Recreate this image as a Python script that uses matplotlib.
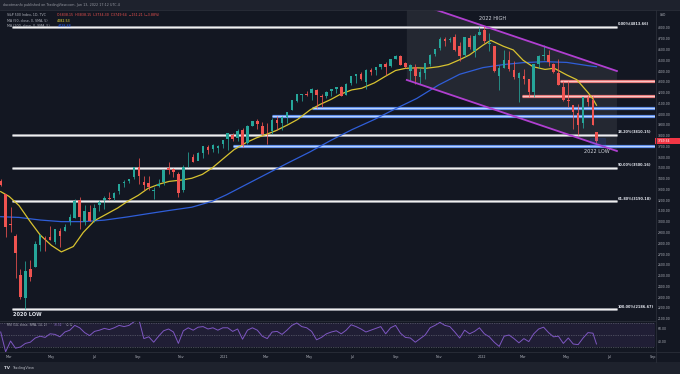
import matplotlib
matplotlib.use("Agg")
import matplotlib.pyplot as plt
import matplotlib.dates as mdates
import matplotlib.transforms as mtransforms
from matplotlib.patches import Rectangle, Polygon
from matplotlib.lines import Line2D
import numpy as np
import pandas as pd

W, H = 680, 374
BG = "#131722"
PANEL = "#1e222d"
SEP = "#2a2e39"
TXT = "#b2b5be"
UP = "#26a69a"
DOWN = "#ef5350"

# S&P 500 weekly candles (the last one is the single session of Jun 13 2022)
week_dates = list(pd.date_range("2020-02-19", periods=121, freq="7D")) + [pd.Timestamp("2022-06-13")]

opens = [
    3380.4, 3257.6, 2974.3, 2863.9, 2508.6, 2290.7, 2558.0, 2578.3, 2782.5, 2845.6,
    2854.7, 2815.0, 2915.5, 2913.9, 3004.1, 3038.8, 3199.9, 2993.8, 3094.4, 3018.6,
    3155.3, 3205.1, 3224.3, 3219.8, 3288.3, 3356.0, 3380.9, 3418.1, 3507.9, 3371.9,
    3363.6, 3285.6, 3333.9, 3367.3, 3500.0, 3493.7, 3441.4, 3296.2, 3583.0, 3600.2,
    3566.8, 3634.2, 3694.7, 3675.3, 3684.3, 3723.0, 3764.6, 3803.1, 3781.9, 3851.7,
    3731.2, 3892.6, 3939.6, 3885.6, 3842.5, 3844.4, 3942.9, 3916.5, 3969.3, 4034.4,
    4124.7, 4179.8, 4185.0, 4192.0, 4228.3, 4169.9, 4170.2, 4216.5, 4229.3, 4248.3,
    4173.4, 4284.9, 4356.5, 4372.4, 4296.4, 4409.6, 4406.9, 4437.8, 4461.7, 4450.3,
    4513.8, 4535.4, 4474.8, 4402.9, 4442.1, 4348.8, 4385.4, 4463.7, 4553.7, 4610.6,
    4701.5, 4689.3, 4712.0, 4628.8, 4548.4, 4710.3, 4587.9, 4733.9, 4778.1, 4655.3,
    4632.2, 4356.3, 4431.8, 4505.8, 4412.6, 4332.7, 4354.2, 4327.0, 4202.8, 4462.4,
    4541.1, 4547.0, 4462.6, 4385.6, 4255.3, 4130.6, 4081.3, 4013.0, 3919.4, 4151.1,
    4134.7, 3838.15]
highs = [
    3393.5, 3259.8, 3136.7, 2882.6, 2562.9, 2637.0, 2641.4, 2818.6, 2879.2, 2871.0,
    2965.0, 2932.0, 2945.0, 2980.3, 3068.7, 3211.7, 3233.1, 3155.5, 3153.5, 3165.8,
    3198.6, 3238.3, 3279.3, 3272.2, 3352.5, 3387.9, 3399.5, 3509.2, 3588.1, 3425.5,
    3428.9, 3320.3, 3397.2, 3482.3, 3550.5, 3502.4, 3464.9, 3529.0, 3646.0, 3628.5,
    3644.3, 3699.2, 3712.4, 3726.7, 3711.2, 3760.2, 3826.7, 3823.6, 3861.5, 3870.9,
    3894.6, 3937.2, 3950.4, 3928.6, 3915.0, 3960.3, 3983.9, 3981.0, 4020.6, 4129.5,
    4191.3, 4187.4, 4218.8, 4238.0, 4236.4, 4183.6, 4213.4, 4233.5, 4249.7, 4257.2,
    4286.1, 4355.4, 4372.0, 4393.7, 4415.0, 4430.0, 4440.8, 4468.0, 4480.0, 4513.3,
    4545.8, 4549.8, 4485.9, 4465.4, 4466.0, 4430.0, 4475.8, 4559.7, 4608.1, 4718.5,
    4714.9, 4717.8, 4743.8, 4672.9, 4713.6, 4732.0, 4740.7, 4808.9, 4818.6, 4748.8,
    4632.2, 4453.2, 4595.3, 4590.0, 4490.0, 4393.0, 4416.8, 4327.0, 4465.4, 4546.0,
    4637.3, 4593.5, 4471.0, 4512.9, 4308.5, 4307.7, 4081.3, 4090.7, 4158.5, 4177.5,
    4164.9, 3838.15]
lows = [
    3328.5, 2855.8, 2901.5, 2478.9, 2280.5, 2191.9, 2447.5, 2578.3, 2729.0, 2727.1,
    2830.2, 2797.9, 2766.6, 2914.0, 2969.7, 3038.8, 2935.5, 2965.7, 3004.6, 3000.5,
    3101.2, 3115.3, 3200.3, 3198.6, 3260.0, 3324.0, 3360.0, 3401.0, 3349.6, 3293.6,
    3292.4, 3209.5, 3323.7, 3342.0, 3440.4, 3415.9, 3233.9, 3279.7, 3511.9, 3552.6,
    3569.0, 3594.5, 3633.4, 3647.5, 3636.5, 3687.0, 3662.7, 3749.6, 3753.0, 3694.1,
    3725.6, 3884.9, 3865.0, 3805.6, 3723.3, 3819.6, 3853.5, 3853.0, 3917.1, 4034.4,
    4114.0, 4118.4, 4172.0, 4128.6, 4056.9, 4061.4, 4152.0, 4167.6, 4198.0, 4164.4,
    4173.4, 4271.0, 4289.0, 4321.0, 4233.1, 4360.0, 4367.7, 4420.0, 4367.7, 4436.0,
    4513.0, 4456.6, 4427.8, 4305.9, 4278.9, 4278.9, 4329.9, 4447.0, 4537.4, 4595.1,
    4630.9, 4672.8, 4585.4, 4495.1, 4532.4, 4600.2, 4531.1, 4733.9, 4662.7, 4582.2,
    4395.3, 4222.6, 4431.0, 4401.4, 4327.2, 4114.7, 4279.5, 4157.9, 4161.7, 4424.3,
    4506.0, 4450.0, 4381.3, 4267.6, 4124.3, 4062.5, 3858.9, 3810.3, 3875.1, 4073.9,
    3900.2, 3734.3]
closes = [
    3337.8, 2954.2, 2972.4, 2711.0, 2304.9, 2541.5, 2488.7, 2789.8, 2874.6, 2836.7,
    2830.7, 2929.8, 2863.7, 2955.5, 3044.3, 3193.9, 3041.3, 3097.7, 3009.1, 3130.0,
    3185.0, 3224.7, 3215.6, 3271.1, 3351.3, 3372.9, 3397.2, 3508.0, 3427.0, 3341.0,
    3319.5, 3298.5, 3348.4, 3477.1, 3483.8, 3465.4, 3270.0, 3509.4, 3585.2, 3557.5,
    3638.4, 3699.1, 3663.5, 3709.4, 3703.1, 3756.1, 3824.7, 3768.3, 3841.5, 3714.2,
    3886.8, 3934.8, 3906.7, 3811.2, 3841.9, 3943.3, 3913.1, 3974.5, 4019.9, 4128.8,
    4185.5, 4180.2, 4181.2, 4232.6, 4173.9, 4155.9, 4204.1, 4229.9, 4247.4, 4166.5,
    4280.7, 4352.3, 4369.6, 4327.2, 4411.8, 4395.3, 4436.5, 4468.0, 4441.7, 4509.4,
    4535.4, 4458.6, 4433.0, 4455.5, 4357.0, 4391.3, 4471.4, 4544.9, 4605.4, 4697.5,
    4682.9, 4698.0, 4594.6, 4538.4, 4712.0, 4620.6, 4725.8, 4766.2, 4677.0, 4662.9,
    4397.9, 4431.9, 4500.5, 4418.6, 4348.9, 4384.7, 4328.9, 4204.3, 4463.1, 4543.1,
    4545.9, 4488.3, 4392.6, 4271.8, 4131.9, 4123.3, 4023.9, 3901.4, 4158.2, 4108.5,
    3900.9, 3749.64]

# RSI(14), read once a week off the lower pane
rsi = [
    55, 22, 40, 28, 30, 36, 38, 45, 48, 46,
    52, 51, 47, 55, 58, 66, 62, 54, 49, 56,
    58, 61, 59, 62, 66, 64, 66, 72, 76, 44,
    47, 38, 48, 57, 60, 55, 36, 57, 62, 58,
    63, 64, 60, 62, 58, 62, 62, 56, 60, 43,
    58, 62, 58, 48, 44, 55, 56, 51, 58, 66,
    70, 64, 62, 56, 42, 46, 52, 55, 57, 52,
    58, 67, 64, 60, 55, 58, 61, 64, 52, 62,
    66, 53, 46, 45, 38, 44, 50, 62, 66, 71,
    66, 64, 55, 45, 58, 52, 56, 62, 52, 47,
    38, 31, 48, 50, 44, 37, 44, 39, 52, 60,
    63, 54, 47, 48, 36, 45, 35, 34, 45, 54,
    53, 35]

# 50-day SMA (yellow)
ma50_dates = [
    "2020-02-19", "2020-03-02", "2020-03-16", "2020-04-01", "2020-04-15", "2020-05-01",
    "2020-05-15", "2020-06-01", "2020-06-15", "2020-07-01", "2020-07-15", "2020-08-03",
    "2020-08-17", "2020-09-01", "2020-09-15", "2020-10-01", "2020-10-15", "2020-11-02",
    "2020-11-16", "2020-12-01", "2020-12-15",
    "2021-01-04", "2021-01-15", "2021-02-01", "2021-02-16", "2021-03-01", "2021-03-15",
    "2021-04-01", "2021-04-15", "2021-05-03", "2021-05-17", "2021-06-01", "2021-06-15",
    "2021-07-01", "2021-07-15", "2021-08-02", "2021-08-16", "2021-09-01", "2021-09-15",
    "2021-10-01", "2021-10-15", "2021-11-01", "2021-11-15", "2021-12-01", "2021-12-15",
    "2022-01-03", "2022-01-14", "2022-02-01", "2022-02-15", "2022-03-01", "2022-03-15",
    "2022-04-01", "2022-04-14", "2022-05-02", "2022-05-16", "2022-06-01", "2022-06-08",
    "2022-06-13"]
ma50 = [
    3280, 3235, 3150, 3000, 2877, 2780, 2720, 2770, 2900, 3010, 3060, 3128,
    3190, 3245, 3310, 3350, 3375, 3388, 3404, 3440, 3500,
    3610, 3670, 3735, 3780, 3810, 3845, 3900, 3950, 4040, 4090, 4135, 4185,
    4225, 4240, 4290, 4345, 4405, 4425, 4430, 4426, 4440, 4460, 4505, 4550,
    4640, 4685, 4630, 4596, 4500, 4440, 4415, 4426, 4363, 4320, 4200, 4140,
    4082.53]

# 200-day SMA (blue)
ma200_dates = [
    "2020-02-19", "2020-03-16", "2020-04-15", "2020-05-15", "2020-06-15", "2020-07-15",
    "2020-08-17", "2020-09-15", "2020-10-15", "2020-11-16", "2020-12-15", "2021-01-04",
    "2021-02-01", "2021-03-01", "2021-04-01", "2021-05-03", "2021-06-01", "2021-07-01",
    "2021-08-02", "2021-09-01", "2021-10-01", "2021-11-01", "2021-12-01", "2022-01-03",
    "2022-02-01", "2022-03-01", "2022-04-01", "2022-05-02", "2022-06-01", "2022-06-13"]
ma200 = [
    3047, 3040, 3016, 3001, 3001, 3015, 3045, 3075, 3105, 3135, 3190, 3250,
    3345, 3440, 3545, 3650, 3755, 3855, 3950, 4050, 4145, 4270, 4370, 4432,
    4460, 4478, 4487, 4480, 4450, 4440]

# Fibonacci retracement, 2020 low -> 2022 high
fib_pct = ["0.00%", "38.20%", "50.00%", "61.80%", "100.00%"]
fib_levels = [4813.66, 3810.15, 3500.16, 3190.18, 2186.67]
fib_span = ("2020-03-06", "2022-07-12")

# horizontal rays
blue_levels = [4060, 3985, 3700]
blue_starts = ["2021-05-06", "2021-03-10", "2021-01-13"]
pink_levels = [4310, 4168]
pink_starts = ["2022-04-22", "2022-02-27"]

# descending channel (two parallel trendlines)
chan_dates = ["2021-09-17", "2022-07-12"]
chan_upper = [5060, 4400]
chan_lower = [4317, 3657]

time_ticks = ["2020-03-01", "2020-05-01", "2020-07-01", "2020-09-01", "2020-11-01",
              "2021-01-01", "2021-03-01", "2021-05-01", "2021-07-01", "2021-09-01",
              "2021-11-01", "2022-01-01", "2022-03-01", "2022-05-01", "2022-07-01",
              "2022-09-01"]
time_labels = ["Mar", "May", "Jul", "Sep", "Nov", "2021", "Mar", "May", "Jul", "Sep",
               "Nov", "2022", "Mar", "May", "Jul", "Sep"]

last_price = 3749.64

fig = plt.figure(figsize=(W / 100, H / 100), dpi=100, facecolor=BG)
ax = fig.add_axes([0, 53 / H, 655 / W, 311 / H], facecolor=BG)
ax2 = fig.add_axes([0, 22 / H, 655 / W, 31 / H], facecolor=BG, sharex=ax)

d = lambda s: mdates.date2num(pd.Timestamp(s))
xlim = (d("2020-02-18"), d("2022-09-04"))

# ---- main pane ----
ax.set_xlim(*xlim)
ax.set_ylim(2078, 4967)

cx = np.array([d(t) for t in week_dates])
o, hi, lo, c = map(np.array, (opens, highs, lows, closes))
cols = np.where(c >= o, UP, DOWN)

# channel fill + lines
cd = [d(t) for t in chan_dates]
ax.add_patch(Polygon([(cd[0], chan_upper[0]), (cd[1], chan_upper[1]),
                      (cd[1], chan_lower[1]), (cd[0], chan_lower[0])],
                     closed=True, facecolor="#ffffff", alpha=0.075, lw=0, zorder=1))

fs, fe = d(fib_span[0]), d(fib_span[1])
for lev in fib_levels:
    ax.plot([fs, fe], [lev, lev], color="#8a8d96", lw=2.0, zorder=2, solid_capstyle="butt")
    ax.plot([fs, fe], [lev, lev], color="#f0f0f0", lw=1.0, zorder=2, solid_capstyle="butt")
for pct, lev in zip(fib_pct, fib_levels):
    ax.text(fe + 1.5, lev + 8, f"{pct}({lev:.2f})", color="#e0e3eb", fontsize=2.5,
            fontweight="bold", ha="left", va="bottom", zorder=6)

for lev, st in zip(blue_levels, blue_starts):
    ax.plot([d(st), xlim[1]], [lev, lev], color="#4f7fe0", lw=2.3, zorder=2, solid_capstyle="butt")
    ax.plot([d(st), xlim[1]], [lev, lev], color="#b9d4ff", lw=1.0, zorder=2, solid_capstyle="butt")
for lev, st in zip(pink_levels, pink_starts):
    ax.plot([d(st), xlim[1]], [lev, lev], color="#e06c6c", lw=2.3, zorder=2, solid_capstyle="butt")
    ax.plot([d(st), xlim[1]], [lev, lev], color="#f9c4c4", lw=1.0, zorder=2, solid_capstyle="butt")

ax.plot([d(t) for t in ma200_dates], ma200, color="#2f5ed8", lw=0.9, zorder=3)
ax.plot([d(t) for t in ma50_dates], ma50, color="#d8c330", lw=0.9, zorder=3)

ax.vlines(cx, lo, hi, colors=cols, lw=0.55, zorder=4)
ax.bar(cx, np.maximum(np.abs(c - o), 4), bottom=np.minimum(o, c), width=3.6,
       color=cols, lw=0, zorder=4)

ax.plot(cd, chan_upper, color="#b03fd0", lw=1.3, zorder=5)
ax.plot(cd, chan_lower, color="#b03fd0", lw=1.3, zorder=5)

# small box around the 2022 low
ax.add_patch(Rectangle((d("2022-06-04"), 3700), d("2022-06-25") - d("2022-06-04"), 80,
                       facecolor="#2962ff", alpha=0.15, edgecolor="#2962ff", lw=0.5, zorder=5))

ax.text(d("2022-01-17"), 4884, "2022 HIGH", color="#d1d4dc", fontsize=3.6,
        ha="center", va="center", zorder=6)
ax.text(d("2022-06-14"), 3648, "2022 LOW", color="#d1d4dc", fontsize=3.6,
        ha="center", va="center", zorder=6)
ax.text(d("2020-03-07"), 2134, "2020 LOW", color="#e0e3eb", fontsize=3.6,
        fontweight="bold", ha="left", va="center", zorder=6)

ax.yaxis.tick_right()
ax.set_yticks(range(2100, 4801, 100))
ax.set_yticklabels([f"{v}.00" for v in range(2100, 4801, 100)])
ax.tick_params(axis="y", colors=TXT, labelsize=2.2, length=0, pad=2.2)
ax.tick_params(axis="x", bottom=False, labelbottom=False)
for s in ax.spines.values():
    s.set_visible(False)

# last price tag
blend = mtransforms.blended_transform_factory(ax.transAxes, ax.transData)
ax.add_patch(Rectangle((1.0, last_price - 27), 25 / 655, 54, transform=blend,
                       facecolor="#f23645", lw=0, clip_on=False, zorder=7))
ax.text(1.0 + 3 / 655, last_price, f"{last_price:.2f}", transform=blend, color="white",
        fontsize=2.2, ha="left", va="center", clip_on=False, zorder=8)

# ---- RSI pane ----
ax2.set_ylim(21.7, 73.3)
ax2.axhspan(30, 70, color="#7e57c2", alpha=0.12, lw=0)
for lev in (70, 50, 30):
    ax2.axhline(lev, color="#787b86", lw=0.45, ls=(0, (1.2, 1.6)))
ax2.plot(cx, rsi, color="#7e57c2", lw=0.7)
ax2.yaxis.tick_right()
ax2.set_yticks([60, 40])
ax2.set_yticklabels(["60.00", "40.00"])
ax2.tick_params(axis="y", colors=TXT, labelsize=2.2, length=0, pad=2.2)
ax2.set_xticks([d(t) for t in time_ticks])
ax2.set_xticklabels(time_labels)
ax2.tick_params(axis="x", colors=TXT, labelsize=2.4, length=0, pad=2.0)
for s in ax2.spines.values():
    s.set_visible(False)
ax2.text(0.011, 0.87, "RSI (14, close, SMA, 14, 2)", transform=ax2.transAxes,
         color=TXT, fontsize=2.2, va="center")
ax2.text(0.082, 0.87, "33.32", transform=ax2.transAxes, color="#9575cd",
         fontsize=2.2, va="center")
ax2.text(0.101, 0.87, "\u2205 \u2205", transform=ax2.transAxes, color=TXT,
         fontsize=2.2, va="center")

# ---- frame pieces in pixel coordinates ----
def fx(x):
    return x / W

def fy(y):
    return 1 - y / H

fig.patches.append(Rectangle((0, fy(10)), 1, 10 / H, transform=fig.transFigure,
                             facecolor=PANEL, lw=0, zorder=0))
fig.patches.append(Rectangle((0, 0), 1, 12 / H, transform=fig.transFigure,
                             facecolor=PANEL, lw=0, zorder=0))
for (x0, y0, x1, y1) in [(0, 10, W, 10), (0, 321, 655, 321), (0, 352, W, 352),
                         (655.5, 10, 655.5, 362)]:
    fig.add_artist(Line2D([fx(x0), fx(x1)], [fy(y0), fy(y1)], color=SEP, lw=0.6))

fig.text(fx(3), fy(5), "dacotmanfx published on TradingView.com, Jun 13, 2022 17:12 UTC-4",
         color="#9598a1", fontsize=2.4, va="center")
fig.text(fx(7), fy(14.7), "S&P 500 Index, 1D, TVC", color=TXT, fontsize=2.3, va="center")
fig.text(fx(57), fy(14.7), "O3838.15  H3838.15  L3734.30  C3749.64  \u2212151.21 (\u22123.88%)",
         color=DOWN, fontsize=2.3, va="center")
fig.text(fx(7), fy(20.7), "MA (50, close, 0, SMA, 5)", color=TXT, fontsize=2.3, va="center")
fig.text(fx(57), fy(20.7), "4082.53", color="#ffeb3b", fontsize=2.3, va="center")
fig.text(fx(7), fy(26.3), "MA (200, close, 0, SMA, 5)", color=TXT, fontsize=2.3, va="center")
fig.text(fx(58), fy(26.3), "4438.88", color="#2962ff", fontsize=2.3, va="center")
fig.text(fx(660), fy(15), "USD", color=TXT, fontsize=2.2, va="center")
fig.text(fx(4), fy(368), "TV", color="#d1d4dc", fontsize=3.0, fontweight="bold", va="center")
fig.text(fx(12), fy(368), "TradingView", color="#b2b5be", fontsize=2.6, va="center")

fig.savefig("out.png", dpi=100, facecolor=BG)
